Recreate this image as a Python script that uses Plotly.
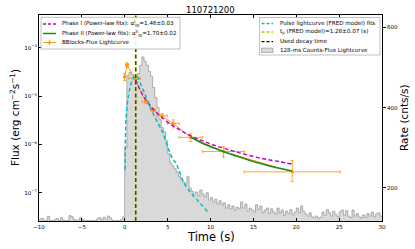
import plotly.graph_objects as go

# ---------------- data ----------------
title_text = "110721200"

# 128-ms counts light curve (rebinned read-off), bin left edges (s) and rate (cnts/s)
hist_t = [round(-10 + 0.25 * i, 2) for i in range(160)]
hist_rate = [
    122, 124, 119, 120, 129, 119, 118, 121, 124, 119,
    126, 120, 118, 119, 131, 128, 121, 119, 120, 126,
    121, 118, 119, 118, 119, 118, 119, 124, 126, 120,
    127, 122, 130, 125, 119, 118, 119, 118, 121, 128,
    300, 480, 488, 482, 478, 470, 485, 505, 526, 515,
    505, 490, 478, 450, 425, 400, 370, 350, 340, 318,
    285, 262, 255, 248, 240, 228, 222, 215, 210, 228,
    200, 192, 185, 190, 180, 195, 185, 178, 188, 170,
    176, 165, 172, 160, 168, 158, 163, 150, 158, 148,
    155, 145, 152, 148, 165, 150, 160, 142, 150, 145,
    140, 158, 146, 155, 138, 145, 150, 136, 148, 140,
    135, 150, 138, 145, 132, 142, 136, 146, 133, 140,
    150, 138, 155, 142, 135, 130, 138, 128, 126, 130,
    124, 127, 140, 132, 146, 138, 130, 142, 134, 128,
    140, 145, 132, 143, 130, 126, 145, 130, 136, 128,
    125, 133, 126, 136, 130, 140, 128, 135, 138, 130,
]

# Bayesian-blocks flux light curve
bb_t = [-0.02, 0.27, 1.15, 2.42, 3.32, 4.34, 5.66, 7.70, 11.52, 19.53]
bb_terr = [0.08, 0.18, 0.68, 0.40, 0.30, 0.60, 0.68, 1.36, 2.44, 5.60]
bb_flux = [2.5e-5, 4.4e-5, 2.35e-5, 7.6e-6, 5.1e-6, 3.9e-6, 2.7e-6, 1.4e-6, 7.1e-7, 2.7e-7]
bb_err_up = [0.45e-5, 0.5e-5, 0.2e-5, 0.5e-6, 0.4e-6, 0.4e-6, 0.5e-6, 0.25e-6, 1.85e-7, 1.9e-7]
bb_err_lo = [0.40e-5, 0.5e-5, 0.2e-5, 0.5e-6, 0.4e-6, 0.4e-6, 0.5e-6, 0.25e-6, 1.7e-7, 1.0e-7]

p1_t = [1.28, 1.8, 2.4, 3.0, 3.5, 4.5, 5.5, 6.5, 7.7, 9.0, 10.5, 12.0, 13.5, 15.0, 16.5, 18.0, 19.5]
p1_flux = [2.2e-5, 1.32e-5, 8.7e-6, 6.3e-6, 4.9e-6, 3.4e-6, 2.5e-6, 1.95e-6, 1.5e-6,
           1.2e-6, 9.5e-7, 7.9e-7, 6.6e-7, 5.6e-7, 4.9e-7, 4.4e-7, 3.9e-7]

p2_t = [7.7, 9.0, 10.5, 11.5, 13.0, 14.5, 16.0, 17.5, 19.5]
p2_flux = [1.4e-6, 1.07e-6, 8.3e-7, 7.1e-7, 5.75e-7, 4.7e-7, 3.95e-7, 3.35e-7, 2.8e-7]

fred_t = [0.05, 0.08, 0.15, 0.27, 0.45, 0.66, 0.93, 1.2, 1.5, 1.95, 2.4, 2.85, 3.4, 3.8,
          4.4, 5.1, 5.6, 6.0, 6.9, 7.6, 8.3, 9.0, 9.7]
fred_flux = [3.0e-7, 1.5e-6, 3.5e-6, 6.2e-6, 1.07e-5, 1.62e-5, 2.3e-5, 2.6e-5, 2.45e-5,
             1.6e-5, 1.05e-5, 6.5e-6, 4.0e-6, 2.9e-6, 1.8e-6, 8.0e-7, 5.0e-7, 4.0e-7,
             1.6e-7, 1.05e-7, 7.5e-8, 5.5e-8, 4.0e-8]

t_peak = 1.28
t_decay = 1.28

x_ticks = [-10, -5, 0, 5, 10, 15, 20, 25, 30]
flux_ticks = [1e-7, 1e-6, 1e-5, 1e-4]
flux_ticklabels = ["10<sup>−7</sup>", "10<sup>−6</sup>", "10<sup>−5</sup>", "10<sup>−4</sup>"]
rate_ticks = [200, 400, 600]

leg_left = [
    "Phase I (Power-law fits): α<sup>I</sup><sub>t0</sub>=1.46±0.03",
    "Phase II (Power-law fits): α<sup>II</sup><sub>t0</sub>=1.70±0.02",
    "BBlocks-Flux Lightcurve",
]
leg_right = [
    "Pulse lightcurve (FRED model) fits",
    "t<sub>p</sub> (FRED model)=1.28±0.07 (s)",
    "Used decay time",
    "128-ms Counts-Flux Lightcurve",
]

# ---------------- style ----------------
W, H = 415, 249
L, R, T, B = 39, 33, 15, 28
PW, PH = W - L - R, H - T - B
FONT = "DejaVu Sans"
C_MAG = "#c000c0"
C_GRN = "#1a8c1a"
C_ORG = "#ff9a1a"
C_CYN = "#00c0c0"
C_YEL = "#c0c000"
LEG_FS = 5.6


def px(x):
    return (x - L) / PW


def py(y):
    return (H - B - y) / PH


fig = go.Figure()

# histogram on right axis (primary y so it stays behind)
fig.add_trace(go.Scatter(
    x=hist_t + [30], y=hist_rate + [hist_rate[-1]], mode="lines", line_shape="hv",
    line=dict(color="#9a9a9a", width=0.8), fill="tozeroy", fillcolor="#d9d9d9",
    yaxis="y", showlegend=False, hoverinfo="skip"))

fig.add_trace(go.Scatter(
    x=bb_t, y=bb_flux, mode="lines+markers", yaxis="y2",
    line=dict(color=C_ORG, width=1), marker=dict(color=C_ORG, size=3.5),
    error_x=dict(type="data", array=bb_terr, color=C_ORG, thickness=0.9, width=1.5),
    error_y=dict(type="data", array=bb_err_up, arrayminus=bb_err_lo, color=C_ORG,
                 thickness=0.9, width=1.5),
    showlegend=False))

fig.add_trace(go.Scatter(
    x=p1_t, y=p1_flux, mode="lines", yaxis="y2", line_shape="spline",
    line=dict(color=C_MAG, width=1.4, dash="4px,2.5px"), showlegend=False))

fig.add_trace(go.Scatter(
    x=p2_t, y=p2_flux, mode="lines", yaxis="y2", line_shape="spline",
    line=dict(color=C_GRN, width=1.6), showlegend=False))

fig.add_trace(go.Scatter(
    x=fred_t, y=fred_flux, mode="lines", yaxis="y2", line_shape="spline",
    line=dict(color=C_CYN, width=1.5, dash="4px,2.5px"), showlegend=False))

shapes = []
# vertical lines: tp (yellow) and used decay time (black)
shapes.append(dict(type="line", xref="x", yref="paper", x0=t_peak, x1=t_peak, y0=0, y1=1,
                   line=dict(color=C_YEL, width=1.8, dash="4px,2.5px")))
shapes.append(dict(type="line", xref="x", yref="paper", x0=t_decay, x1=t_decay, y0=0, y1=1,
                   line=dict(color="rgba(0,0,0,0.6)", width=1.5, dash="4px,2.5px")))

# left legend box
shapes.append(dict(type="rect", xref="paper", yref="paper", x0=px(41), x1=px(180), y0=py(49), y1=py(17.3),
                   line=dict(color="#b0b0b0", width=0.8), fillcolor="rgba(255,255,255,0.9)"))
rows_l = [24, 33.5, 42.5]
shapes.append(dict(type="line", xref="paper", yref="paper", x0=px(43), x1=px(56), y0=py(rows_l[0]), y1=py(rows_l[0]),
                   line=dict(color=C_MAG, width=1.3, dash="3px,2px")))
shapes.append(dict(type="line", xref="paper", yref="paper", x0=px(43), x1=px(56), y0=py(rows_l[1]), y1=py(rows_l[1]),
                   line=dict(color=C_GRN, width=1.5)))
shapes.append(dict(type="line", xref="paper", yref="paper", x0=px(43), x1=px(56), y0=py(rows_l[2]), y1=py(rows_l[2]),
                   line=dict(color=C_ORG, width=1)))
shapes.append(dict(type="line", xref="paper", yref="paper", x0=px(49.5), x1=px(49.5), y0=py(rows_l[2] - 3), y1=py(rows_l[2] + 3),
                   line=dict(color=C_ORG, width=1)))
shapes.append(dict(type="circle", xref="paper", yref="paper", x0=px(48.3), x1=px(50.7), y0=py(rows_l[2] + 1.2), y1=py(rows_l[2] - 1.2),
                   line=dict(color=C_ORG, width=0.5), fillcolor=C_ORG))

# right legend box
shapes.append(dict(type="rect", xref="paper", yref="paper", x0=px(259.5), x1=px(380), y0=py(55), y1=py(17.5),
                   line=dict(color="#b0b0b0", width=0.8), fillcolor="rgba(255,255,255,0.9)"))
rows_r = [23.5, 32, 41.7, 50.3]
for yy, col in zip(rows_r[:3], [C_CYN, C_YEL, "black"]):
    shapes.append(dict(type="line", xref="paper", yref="paper", x0=px(261.5), x1=px(273), y0=py(yy), y1=py(yy),
                       line=dict(color=col, width=1.3, dash="3px,2px")))
shapes.append(dict(type="rect", xref="paper", yref="paper", x0=px(261.5), x1=px(273), y0=py(rows_r[3] + 2.2), y1=py(rows_r[3] - 2.2),
                   line=dict(color="#8a8a8a", width=0.6), fillcolor="#d9d9d9"))

annotations = []
for yy, txt in zip(rows_l, leg_left):
    annotations.append(dict(xref="paper", yref="paper", x=px(60), y=py(yy), text=txt, showarrow=False,
                            xanchor="left", yanchor="middle", font=dict(family=FONT, size=LEG_FS, color="black")))
for yy, txt in zip(rows_r, leg_right):
    annotations.append(dict(xref="paper", yref="paper", x=px(278), y=py(yy), text=txt, showarrow=False,
                            xanchor="left", yanchor="middle", font=dict(family=FONT, size=LEG_FS, color="black")))

# titles
annotations.append(dict(xref="paper", yref="paper", x=px(210.7), y=py(10), text=title_text, showarrow=False,
                        xanchor="center", yanchor="middle", font=dict(family=FONT, size=8.5, color="black")))
annotations.append(dict(xref="paper", yref="paper", x=px(210.7), y=py(237), text="Time (s)", showarrow=False,
                        xanchor="center", yanchor="middle", font=dict(family=FONT, size=11.5, color="black")))
annotations.append(dict(xref="paper", yref="paper", x=px(14), y=py(118), text="Flux (erg cm<sup>−2</sup>s<sup>−1</sup>)",
                        showarrow=False, textangle=-90, xanchor="center", yanchor="middle",
                        font=dict(family=FONT, size=10.5, color="black")))
annotations.append(dict(xref="paper", yref="paper", x=px(404), y=py(118), text="Rate (cnts/s)",
                        showarrow=False, textangle=-90, xanchor="center", yanchor="middle",
                        font=dict(family=FONT, size=10.5, color="black")))

tickfont = dict(family=FONT, size=5.5, color="black")
fig.update_layout(
    width=W, height=H, margin=dict(l=L, r=R, t=T, b=B, autoexpand=False),
    paper_bgcolor="white", plot_bgcolor="white", showlegend=False,
    shapes=shapes, annotations=annotations,
    xaxis=dict(range=[-10, 30], tickvals=x_ticks, ticks="inside", ticklen=3, tickwidth=0.7,
               showline=True, linecolor="black", linewidth=1, mirror="ticks", showgrid=False,
               zeroline=False, tickfont=tickfont, tickcolor="black"),
    yaxis=dict(range=[117.7, 630.6], side="right", tickvals=rate_ticks, ticks="outside", ticklen=3,
               tickwidth=0.7, showline=True, linecolor="black", linewidth=1, showgrid=False,
               zeroline=False, tickfont=tickfont, tickcolor="black"),
    yaxis2=dict(type="log", range=[-7.586, -3.323], side="left", overlaying="y", tickvals=flux_ticks,
                ticktext=flux_ticklabels, ticks="inside", ticklen=3, tickwidth=0.7, showline=True,
                linecolor="black", linewidth=1, showgrid=False, zeroline=False, tickfont=tickfont,
                tickcolor="black"),
)

fig.write_html("out.html", config={"displayModeBar": False},
               post_script="document.body.style.margin='0';document.body.style.padding='0';")
